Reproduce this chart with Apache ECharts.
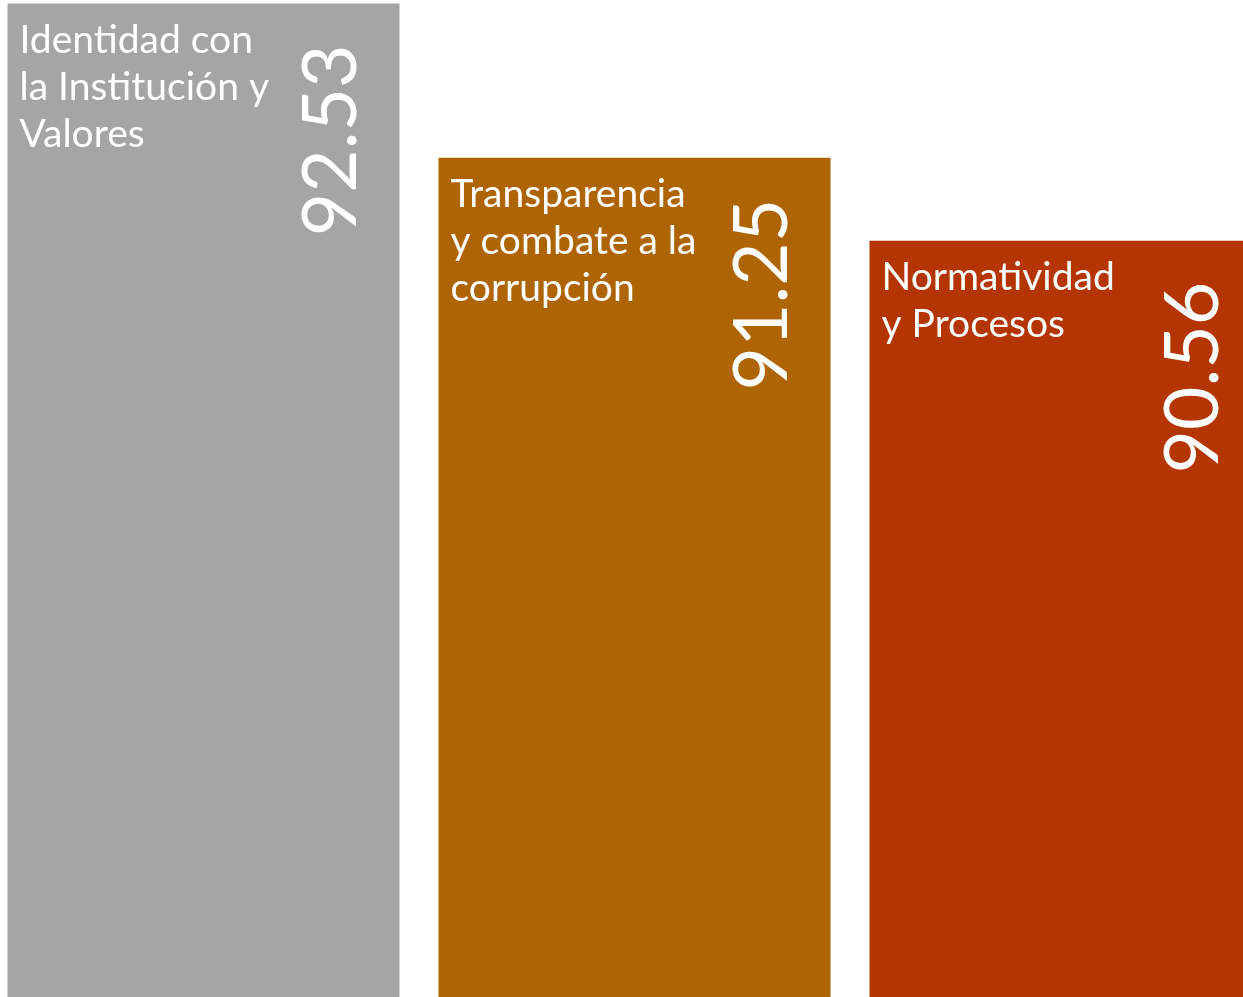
<!DOCTYPE html>
<html>
<head>
<meta charset="utf-8">
<title>Resultados por dimensión</title>
<script src="https://cdn.jsdelivr.net/npm/echarts@6/dist/echarts.min.js"></script>
<style>
  html, body { margin: 0; padding: 0; background: #ffffff; overflow: hidden; }
  /* the plot runs a little past both window edges */
  #chart { position: absolute; left: -12.5px; top: 0; width: 1293px; height: 997px; }
</style>
</head>
<body>
<div id="chart"></div>
<script>
// Dimensiones evaluadas y su puntaje
const categories = [
  'Identidad con\nla Institución y\nValores',
  'Transparencia\ny combate a la\ncorrupción',
  'Normatividad\ny Procesos'
];
const scores = [92.53, 91.25, 90.56];
const barColors = ['#A5A5A5', '#AE6400', '#B43500'];

const BAR_W = 392;
const FONT = 'Lato, "Open Sans", "Noto Sans", sans-serif';

const chart = echarts.init(document.getElementById('chart'), null, { renderer: 'canvas' });

const coloredData = scores.map((v, i) => ({ value: v, itemStyle: { color: barColors[i] } }));

chart.setOption({
  backgroundColor: '#ffffff',
  animation: false,
  grid: { left: 0, right: 0, top: 0, bottom: 0, containLabel: false },
  xAxis: {
    type: 'category',
    data: categories,
    axisLine: { show: false },
    axisTick: { show: false },
    axisLabel: { show: false },
    splitLine: { show: false }
  },
  yAxis: {
    type: 'value',
    min: 84.28,
    max: 92.56,
    show: false,
    splitLine: { show: false }
  },
  series: [
    {
      // barras con el nombre de la dimensión
      type: 'bar',
      barWidth: BAR_W,
      barGap: '-100%',
      data: coloredData,
      label: {
        show: true,
        position: [12, 13],
        formatter: (p) => categories[p.dataIndex],
        color: '#ffffff',
        fontFamily: FONT,
        fontSize: 39,
        lineHeight: 47,
        align: 'left',
        verticalAlign: 'top'
      }
    },
    {
      // mismo puntaje, transparente, sólo para la etiqueta vertical
      type: 'bar',
      barWidth: BAR_W,
      barGap: '-100%',
      silent: true,
      data: scores,
      itemStyle: { color: 'rgba(0,0,0,0)' },
      label: {
        show: true,
        position: [BAR_W - 30, 41],
        rotate: 90,
        align: 'right',
        verticalAlign: 'bottom',
        formatter: (p) => p.value.toFixed(2),
        color: '#ffffff',
        fontFamily: FONT,
        fontSize: 75,
        lineHeight: 75
      }
    }
  ]
});
</script>
</body>
</html>
